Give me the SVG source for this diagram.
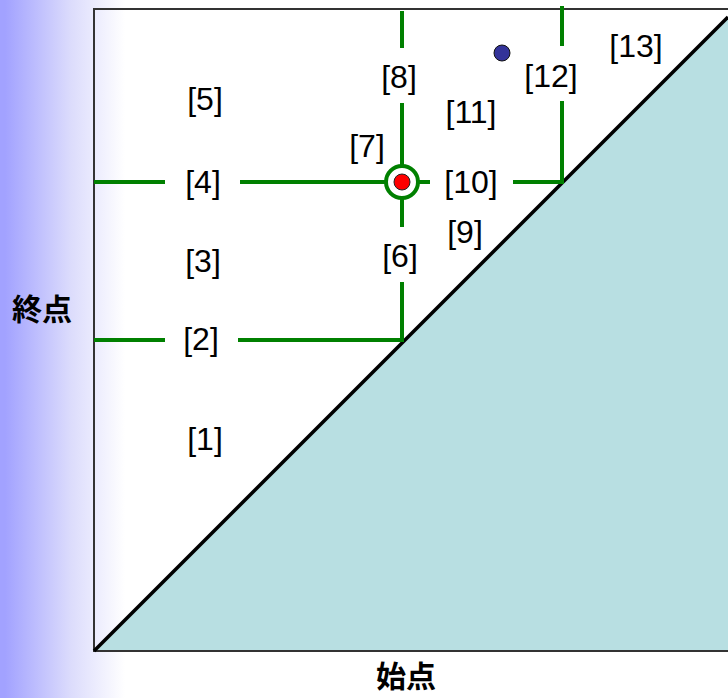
<svg xmlns="http://www.w3.org/2000/svg" width="728" height="698" viewBox="0 0 728 698">
<defs>
<linearGradient id="bg" x1="5" y1="0" x2="125" y2="0" gradientUnits="userSpaceOnUse">
<stop offset="0" stop-color="#a2a2ff"/>
<stop offset="0.55" stop-color="#dcdcfc"/>
<stop offset="1" stop-color="#ffffff"/>
</linearGradient>
<style>
.lbl{font-family:"Liberation Sans",Arial,sans-serif;font-size:32px;fill:#000;text-anchor:middle}
.ax{font-family:"Noto Sans CJK JP","Noto Sans CJK SC",sans-serif;font-size:30px;font-weight:bold;fill:#000;text-anchor:middle}
.g{stroke:#008000;stroke-width:4;fill:none}
</style>
</defs>
<rect x="0" y="0" width="728" height="698" fill="url(#bg)"/>
<g id="area">
<polygon points="94,651 728,17 728,651" fill="#b8dfe2"/>
<path d="M728,9 H94 V651 H728" fill="none" stroke="#333" stroke-width="2"/>
<line x1="94" y1="651" x2="728" y2="17" stroke="#000" stroke-width="3.5"/>
</g>
<g id="connectors">
<path class="g" d="M94,182 H165 M240,182 H386 M418,182 H430 M513,182 H562 V101 M562,46 V6"/>
<path class="g" d="M402,11 V48 M402,103 V166 M402,198 V227 M402,282 V340 H238 M165,340 H94"/>
</g>
<g id="point">
<circle cx="402" cy="182" r="16" fill="#fff" stroke="#008000" stroke-width="4"/>
<circle cx="402" cy="182" r="8" fill="#ff0000" stroke="#222" stroke-width="1"/>
</g>
<g id="point2">
<circle cx="502" cy="53" r="8" fill="#333399" stroke="#111" stroke-width="1"/>
</g>
<g id="labels">
<text class="lbl" x="205" y="110">[5]</text>
<text class="lbl" x="203" y="193">[4]</text>
<text class="lbl" x="203" y="272">[3]</text>
<text class="lbl" x="201" y="350">[2]</text>
<text class="lbl" x="205" y="450">[1]</text>
<text class="lbl" x="367" y="157">[7]</text>
<text class="lbl" x="399" y="88">[8]</text>
<text class="lbl" x="400" y="267">[6]</text>
<text class="lbl" x="465" y="243">[9]</text>
<text class="lbl" x="471" y="193">[10]</text>
<text class="lbl" x="471" y="123">[11]</text>
<text class="lbl" x="551" y="87">[12]</text>
<text class="lbl" x="636" y="57">[13]</text>
</g>
<g id="axes">
<text class="ax" x="42" y="320">終点</text>
<text class="ax" x="406" y="687">始点</text>
</g>
</svg>
